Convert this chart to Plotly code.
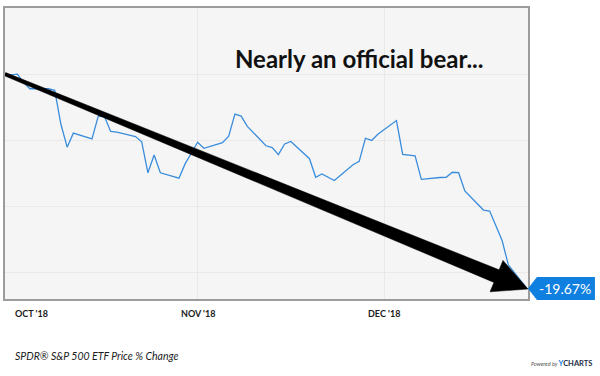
import numpy as np
import pandas as pd
import plotly.graph_objects as go

# ---------------- data ----------------
dates = [
    "2018-10-01", "2018-10-02", "2018-10-03", "2018-10-04", "2018-10-05",
    "2018-10-08", "2018-10-09", "2018-10-10", "2018-10-11", "2018-10-12",
    "2018-10-15", "2018-10-16", "2018-10-17", "2018-10-18", "2018-10-19",
    "2018-10-22", "2018-10-23", "2018-10-24", "2018-10-25", "2018-10-26",
    "2018-10-29", "2018-10-30", "2018-10-31", "2018-11-01", "2018-11-02",
    "2018-11-05", "2018-11-06", "2018-11-07", "2018-11-08", "2018-11-09",
    "2018-11-12", "2018-11-13", "2018-11-14", "2018-11-15", "2018-11-16",
    "2018-11-19", "2018-11-20", "2018-11-21", "2018-11-23", "2018-11-26",
    "2018-11-27", "2018-11-28", "2018-11-29", "2018-11-30", "2018-12-03",
    "2018-12-04", "2018-12-06", "2018-12-07", "2018-12-10", "2018-12-11",
    "2018-12-12", "2018-12-13", "2018-12-14", "2018-12-17", "2018-12-18",
    "2018-12-19", "2018-12-20", "2018-12-21", "2018-12-24",
]
pct_change = [
    0.00, -0.06, 0.00, -0.78, -1.34,
    -1.34, -1.48, -4.60, -6.70, -5.41,
    -5.94, -3.88, -3.87, -5.25, -5.31,
    -5.73, -6.21, -9.05, -7.42, -9.05,
    -9.55, -8.21, -7.23, -6.25, -6.80,
    -6.29, -5.69, -3.67, -3.85, -4.79,
    -6.57, -6.74, -7.38, -6.41, -6.17,
    -7.76, -9.46, -9.16, -9.76, -8.31,
    -8.00, -5.88, -6.08, -5.51, -4.26,
    -7.36, -7.50, -9.65, -9.48, -9.46,
    -9.00, -9.04, -10.72, -12.47, -12.56,
    -13.87, -15.27, -17.49, -19.67,
]
tick_dates = ["2018-10-01", "2018-11-01", "2018-12-01"]
tick_labels = ["OCT '18", "NOV '18", "DEC '18"]
title_text = "Nearly an official bear..."
series_name = "SPDR® S&P 500 ETF Price % Change"

# ---------------- geometry ----------------
W, H = 600, 376
ML, MR, MT, MB = 5, 72, 8, 77
PW, PH = W - ML - MR, H - MT - MB
x_range = [pd.Timestamp("2018-10-01"), pd.Timestamp("2018-12-24 04:00")]
y_range = [-20.63, 6.07]

x = pd.to_datetime(dates)
ppd = PW / ((x_range[1] - x_range[0]) / pd.Timedelta(days=1))   # px per day
ppp = PH / (y_range[1] - y_range[0])                             # px per pct


def to_px(d, v):
    return (ML + (d - x_range[0]) / pd.Timedelta(days=1) * ppd,
            MT + (y_range[1] - v) * ppp)


def to_data(px, py):
    return (x_range[0] + pd.Timedelta(days=(px - ML) / ppd),
            y_range[1] - (py - MT) / ppp)


# tapered arrow from first to last point (pixel space)
S = np.array(to_px(x[0], pct_change[0]))
T = np.array(to_px(x[-1], pct_change[-1])) + np.array([1.0, 0.5])
u = (T - S) / np.linalg.norm(T - S)
n = np.array([-u[1], u[0]])
head_len, head_half, w0, w1 = 34, 17, 1.7, 6.8
B = T - u * head_len
poly = [S + n * w0, B + n * w1, B + n * head_half, T,
        B - n * head_half, B - n * w1, S - n * w0, S + n * w0]
arrow_pts = [to_data(p[0], p[1]) for p in poly]

fig = go.Figure()
fig.add_trace(go.Scatter(
    x=x, y=pct_change, mode="lines",
    line=dict(color="#3a8ddc", width=1.3),
    hoverinfo="skip", showlegend=False,
))
fig.add_trace(go.Scatter(
    x=[p[0] for p in arrow_pts], y=[p[1] for p in arrow_pts],
    mode="lines", fill="toself", fillcolor="black",
    line=dict(color="black", width=0.5),
    hoverinfo="skip", showlegend=False,
))

# value tag (pixel path anchored at the last value, in paper coordinates)
last_xp = (x[-1] - x_range[0]) / (x_range[1] - x_range[0])
last_yp = (pct_change[-1] - y_range[0]) / (y_range[1] - y_range[0])
fig.add_shape(
    type="path", xref="paper", yref="paper",
    xsizemode="pixel", ysizemode="pixel",
    xanchor=last_xp, yanchor=last_yp,
    path="M 1,0 L 10,11.5 L 68,11.5 L 68,-11.5 L 10,-11.5 Z",
    fillcolor="#0f80e0", line=dict(width=0), layer="above",
)
fig.add_annotation(
    x=last_xp, y=last_yp, xref="paper", yref="paper",
    text=f"{pct_change[-1]:.2f}%", showarrow=False,
    xanchor="center", yanchor="middle", xshift=38,
    font=dict(family="Lato", size=14, color="white"),
)

# x tick labels
for i, (d, lab) in enumerate(zip(tick_dates, tick_labels)):
    fig.add_annotation(
        x=d, y=0, xref="x", yref="paper", yshift=-14,
        text=f"<b>{lab}</b>", showarrow=False,
        xanchor="left" if i == 0 else "center", xshift=8 if i == 0 else 0,
        yanchor="middle",
        font=dict(family="Lato", size=9, color="#1a1a1a"),
    )

# title
fig.add_annotation(
    x=0.436, y=1, xref="paper", yref="paper", yshift=-50,
    text=f"<b>{title_text}</b>", showarrow=False,
    xanchor="left", yanchor="middle",
    font=dict(family="Lato", size=24, color="#111111"),
)

# footer
fig.add_annotation(
    x=0, y=0, xref="paper", yref="paper", xshift=8, yshift=-57,
    text=f"<i>{series_name}</i>", showarrow=False,
    xanchor="left", yanchor="middle",
    font=dict(family="Lato", size=10.5, color="#1a1a1a"),
)
fig.add_annotation(
    x=1, y=0, xref="paper", yref="paper", xshift=66, yshift=-64,
    text="<i><span style='font-size:5.5px;color:#555'>Powered by </span></i>"
         "<b><span style='color:#1a82d8'>Y</span>CHARTS</b>",
    showarrow=False, xanchor="right", yanchor="middle",
    font=dict(family="Lato", size=7.5, color="#1d2b44"),
)

fig.update_layout(
    width=W, height=H,
    margin=dict(l=ML, r=MR, t=MT, b=MB),
    paper_bgcolor="white", plot_bgcolor="#f5f5f5",
    showlegend=False,
    xaxis=dict(
        type="date", range=x_range, tickvals=tick_dates,
        showticklabels=False, ticks="",
        showgrid=True, gridcolor="#e9e9e9", gridwidth=1,
        showline=True, mirror=True, linecolor="#9c9c9c", linewidth=2,
        zeroline=False, fixedrange=True,
    ),
    yaxis=dict(
        range=y_range, tick0=0, dtick=6.07,
        showticklabels=False, ticks="",
        showgrid=True, gridcolor="#e9e9e9", gridwidth=1,
        showline=True, mirror=True, linecolor="#9c9c9c", linewidth=2,
        zeroline=False, fixedrange=True,
    ),
)

fig.write_html(
    "out.html",
    config={"displayModeBar": False, "staticPlot": True},
    post_script="document.body.style.margin='0px';",
)
